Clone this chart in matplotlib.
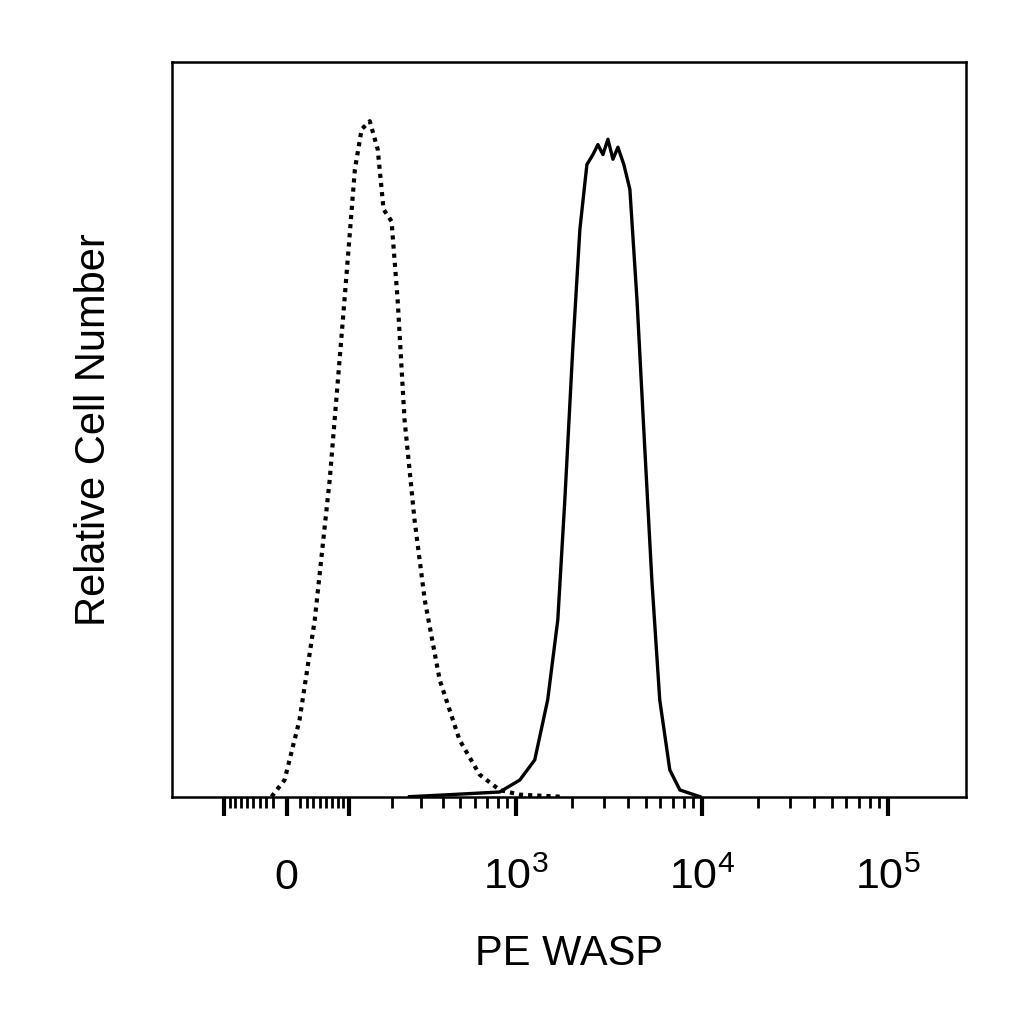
import numpy as np
import matplotlib
matplotlib.use("Agg")
import matplotlib.pyplot as plt

plt.rcParams['font.family'] = ['Liberation Sans', 'DejaVu Sans']
plt.rcParams['mathtext.fontset'] = 'custom'
plt.rcParams['mathtext.rm'] = 'Liberation Sans'

# Data (intensity, relative count)
iso_x = [-22, -3, 19, 42, 66, 92, 112, 126, 144, 163, 178, 200, 218, 240, 275, 315, 383, 494, 637, 819, 1053, 1730]
iso_y = [0, 2.5, 11.5, 26.5, 47.5, 74.5, 94, 100, 101.2, 97, 88, 86.2, 74.5, 56.5, 41.5, 29.5, 17.5, 8.5, 3.3, 1, 0.3, 0]
wasp_x = [257, 435, 819, 1053, 1267, 1488, 1687, 1841, 2030, 2218, 2419, 2608, 2773, 2950, 3139, 3339, 3552,
          3823, 4118, 4496, 4956, 5404, 5959, 6750, 7646, 9794]
wasp_y = [0, 0.3, 0.7, 2.5, 5.5, 14.5, 26.5, 44.5, 67, 85, 94.7, 96.2, 97.7, 96.2, 98.5, 95.5, 97.3,
          94.7, 91, 74.5, 52, 32.5, 14.5, 4, 1, 0]
major_ticks = [0, 1e3, 1e4, 1e5]
major_labels = ['0', '$10^3$', '$10^4$', '$10^5$']

W = 118.0
def fwd(x):
    return np.arcsinh(np.asarray(x, float) / W)
def inv(p):
    return W * np.sinh(np.asarray(p, float))

fig = plt.figure(figsize=(10.24, 10.24), dpi=100)
ax = fig.add_axes([0.168, 0.222, 0.775, 0.717])
ax.set_xscale('function', functions=(fwd, inv))
ax.plot(iso_x, iso_y, color='black', lw=3, linestyle=(0, (1, 1.2)))
ax.plot(wasp_x, wasp_y, color='black', lw=2.4)
ax.set_xlim(-229, 262000)
ax.set_ylim(0, 110)
ax.set_yticks([])

minor = []
for k in [2, 3, 4]:
    minor += [m * 10**k for m in range(2, 10)]
minor += [-m * 10 for m in range(2, 10)] + [m * 10 for m in range(2, 10)]
ax.set_xticks(major_ticks + [-100, 100])
ax.set_xticklabels(major_labels + ['', ''])
ax.set_xticks(minor, minor=True)
ax.tick_params(axis='x', which='major', length=14, width=3, pad=30, labelsize=31)
ax.tick_params(axis='x', which='minor', length=8, width=2)
for sp in ax.spines.values():
    sp.set_linewidth(1.8)

ax.set_xlabel('PE WASP', fontsize=30, labelpad=26)
ax.set_ylabel('Relative Cell Number', fontsize=30, labelpad=42)
fig.savefig('out.png', dpi=100)
